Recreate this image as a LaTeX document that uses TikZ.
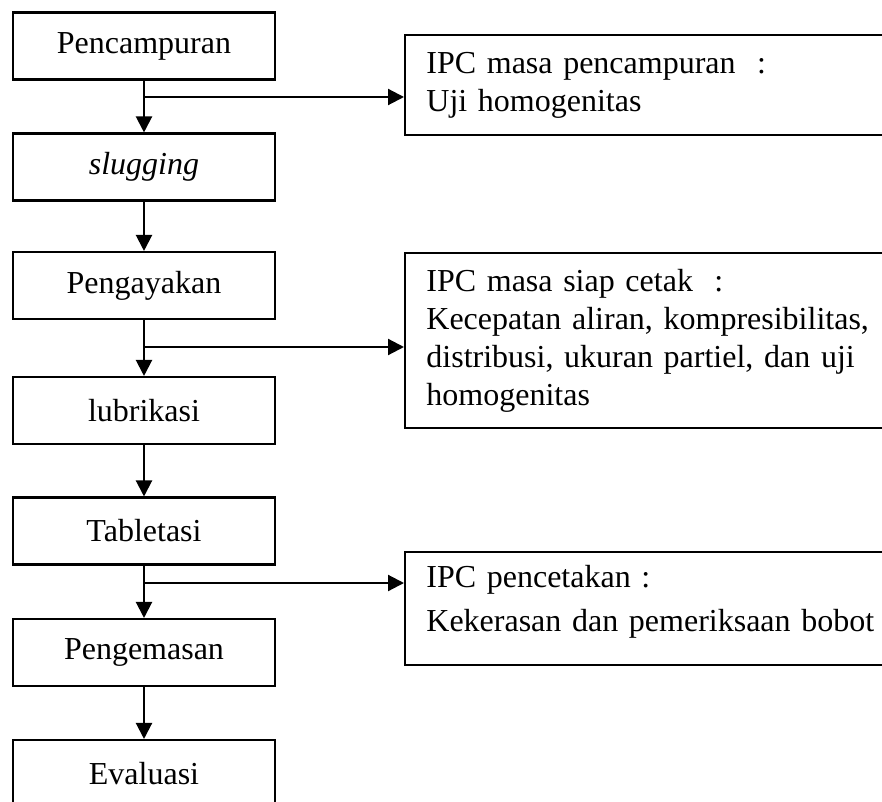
\documentclass[tikz,border=0pt]{standalone}
\usepackage{fontspec}
\setmainfont{Liberation Serif}
\usetikzlibrary{arrows.meta}

\begin{document}
\begin{tikzpicture}[
    x=0.375pt, y=-0.375pt,
    font=\fontsize{12}{14.25}\selectfont,
    tahap/.style={draw,line width=0.8pt,minimum width=98.25pt,minimum height=25.1pt,inner sep=0pt},
    ipc/.style={draw,line width=0.8pt,anchor=north west,minimum width=184pt,
                text width=168pt,align=left,inner xsep=7.9pt,inner ysep=0pt},
    alur/.style={line width=0.8pt,-{Triangle[length=6pt,width=6pt]}}
]
\useasboundingbox (0,0) rectangle (882,801);

% -------------------------------------------------
% Tahapan proses (kolom kiri)
% -------------------------------------------------

\node[tahap] (campur)  at (144,46)    {Pencampuran};
\node[tahap] (slug)    at (144,167)   {\textit{slugging}};
\node[tahap] (ayak)    at (144,285.5) {Pengayakan};
\node[tahap] (lubri)   at (144,410.5) {lubrikasi};
\node[tahap] (tablet)  at (144,531)   {Tabletasi};
\node[tahap] (kemas)   at (144,652.5) {Pengemasan};
\node[tahap] (eval)    at (144,773.5) {Evaluasi};

% -------------------------------------------------
% Kotak IPC (kolom kanan)
% -------------------------------------------------

\node[ipc,minimum height=37.5pt] (ipc1) at (404,34)
    {IPC masa pencampuran~~:\\Uji homogenitas};
\node[ipc,minimum height=65.6pt] (ipc2) at (404,252)
    {IPC masa siap cetak~~:\\Kecepatan aliran, kompresibilitas,\\distribusi, ukuran partiel, dan uji\\homogenitas};
\node[ipc,minimum height=42.4pt,font=\fontsize{12}{16.5}\selectfont] (ipc3) at (404,551)
    {IPC pencetakan :\\Kekerasan dan pemeriksaan bobot\rule[-8pt]{0pt}{8pt}};

% -------------------------------------------------
% Titik cabang
% -------------------------------------------------

\coordinate (cabang1) at (144,97);
\coordinate (cabang2) at (144,347);
\coordinate (cabang3) at (144,583);

% -------------------------------------------------
% Alur utama
% -------------------------------------------------

\draw[alur] (campur) -- (slug);
\draw[alur] (slug)   -- (ayak);
\draw[alur] (ayak)   -- (lubri);
\draw[alur] (lubri)  -- (tablet);
\draw[alur] (tablet) -- (kemas);
\draw[alur] (kemas)  -- (eval);

% -------------------------------------------------
% Cabang ke IPC
% -------------------------------------------------

\draw[alur] (cabang1) -- (ipc1.west |- cabang1);
\draw[alur] (cabang2) -- (ipc2.west |- cabang2);
\draw[alur] (cabang3) -- (ipc3.west |- cabang3);
\end{tikzpicture}
\end{document}
